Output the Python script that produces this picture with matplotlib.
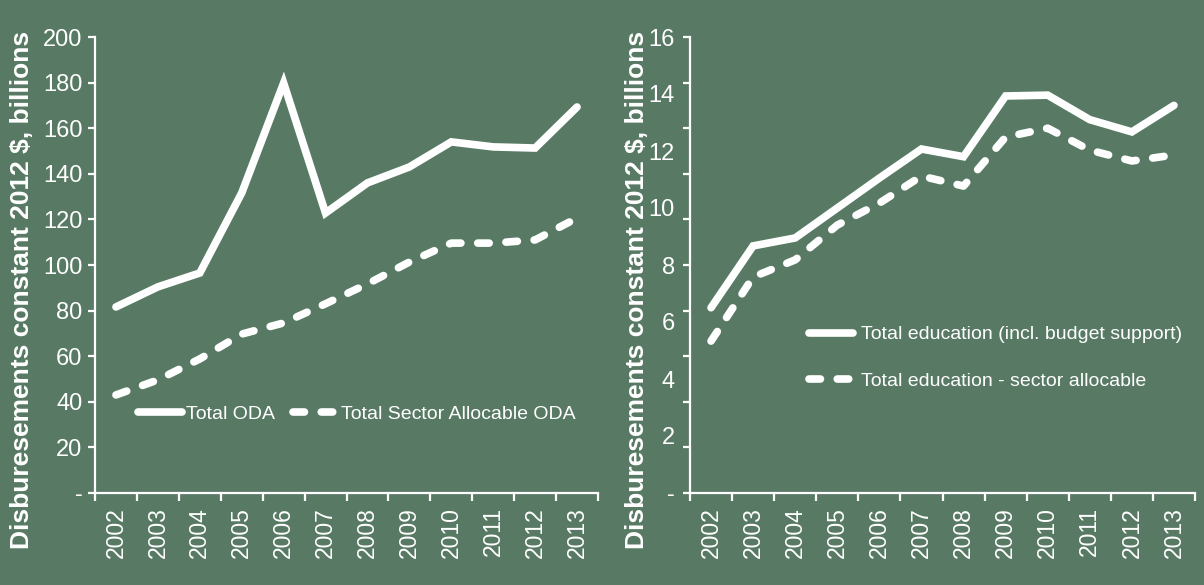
import numpy as np
import matplotlib
matplotlib.use("Agg")
import matplotlib.pyplot as plt
from matplotlib.ticker import FixedLocator

years = ["2002", "2003", "2004", "2005", "2006", "2007",
         "2008", "2009", "2010", "2011", "2012", "2013"]

# left panel: ODA, constant 2012 $ billions
total_oda = [81.6, 90.4, 96.5, 131.6, 179.8, 122.8, 136.0, 143.0, 154.0, 151.8, 151.3, 169.3]
sector_oda = [43.0, 49.6, 58.8, 69.7, 74.6, 83.0, 91.7, 101.3, 109.6, 109.6, 111.0, 120.6]

# right panel: education, constant 2012 $ billions
total_edu = [6.5, 8.67, 8.95, 10.0, 11.05, 12.07, 11.8, 13.93, 13.96, 13.1, 12.67, 13.6]
sector_edu = [5.33, 7.58, 8.18, 9.4, 10.17, 11.12, 10.77, 12.49, 12.8, 12.03, 11.65, 11.86]

left_ticks = list(range(0, 201, 20))
left_labels = ["-"] + [str(v) for v in left_ticks[1:]]
right_label_pos = list(range(0, 17, 2))
right_labels = ["-"] + [str(v) for v in right_label_pos[1:]]
right_tick_marks = [i * 1.6 for i in range(11)]

ylabel = "Disburesements constant 2012 $, billions"

BG = "#587a64"
WHITE = "white"
FONT = "Liberation Sans"

fig = plt.figure(figsize=(12.04, 5.85), dpi=100, facecolor=BG)
ax1 = fig.add_axes([95 / 1204, 92 / 585, 503 / 1204, 456 / 585])
ax2 = fig.add_axes([690 / 1204, 92 / 585, 505 / 1204, 456 / 585])

x = np.arange(len(years))
lw = 5.5
dash = (1.5, 2.2)


def style_axes(ax):
    ax.set_facecolor(BG)
    for s in ["top", "right"]:
        ax.spines[s].set_visible(False)
    for s in ["left", "bottom"]:
        ax.spines[s].set_color(WHITE)
        ax.spines[s].set_linewidth(1.6)
    ax.xaxis.remove_overlapping_locs = False
    ax.yaxis.remove_overlapping_locs = False
    ax.set_xlim(-0.5, len(years) - 0.5)
    ax.xaxis.set_major_locator(FixedLocator(np.arange(-0.5, len(years), 1.0)))
    ax.set_xticklabels([])
    ax.xaxis.set_minor_locator(FixedLocator(x))
    ax.set_xticklabels(years, minor=True, rotation=90, color=WHITE,
                       fontsize=16.5, family=FONT)
    ax.tick_params(axis="x", which="major", length=6, width=1.6, color=WHITE, direction="out")
    ax.tick_params(axis="x", which="minor", length=0, pad=10)
    ax.set_ylabel(ylabel, color=WHITE, fontsize=19, fontweight="bold", family=FONT)


def draw(ax, a, b, la, lb):
    ax.plot(x, a, color=WHITE, lw=lw, solid_capstyle="round", solid_joinstyle="miter", label=la)
    ax.plot(x, b, color=WHITE, lw=lw, dashes=dash, dash_capstyle="round", label=lb)


# left panel
style_axes(ax1)
draw(ax1, total_oda, sector_oda, "Total ODA", "Total Sector Allocable ODA")
ax1.set_ylim(0, 200)
ax1.set_yticks(left_ticks)
ax1.set_yticklabels(left_labels, color=WHITE, fontsize=17, family=FONT)
ax1.tick_params(axis="y", length=5, width=1.6, color=WHITE, pad=4)
ax1.yaxis.set_label_coords(-0.121, 0.445)
leg1 = ax1.legend(loc="upper left", bbox_to_anchor=(0.05, 0.23), ncol=2, frameon=False,
                  handlelength=2.3, handletextpad=0.2, columnspacing=0.9,
                  prop={"family": FONT, "size": 14})
for t in leg1.get_texts():
    t.set_color(WHITE)

# right panel
style_axes(ax2)
draw(ax2, total_edu, sector_edu, "Total education (incl. budget support)",
     "Total education - sector allocable")
ax2.set_ylim(0, 16)
ax2.set_yticks(right_tick_marks)
ax2.set_yticklabels([])
ax2.tick_params(axis="y", which="major", length=5, width=1.6, color=WHITE)
ax2.yaxis.set_minor_locator(FixedLocator(right_label_pos))
ax2.set_yticklabels(right_labels, minor=True, color=WHITE, fontsize=17, family=FONT)
ax2.tick_params(axis="y", which="minor", length=0, pad=11)
ax2.yaxis.set_label_coords(-0.081, 0.445)
leg2 = ax2.legend(loc="upper left", bbox_to_anchor=(0.2, 0.405), ncol=1, frameon=False,
                  handlelength=2.3, handletextpad=0.4, labelspacing=1.5,
                  prop={"family": FONT, "size": 14})
for t in leg2.get_texts():
    t.set_color(WHITE)

fig.savefig("out.png", dpi=100, facecolor=BG)
